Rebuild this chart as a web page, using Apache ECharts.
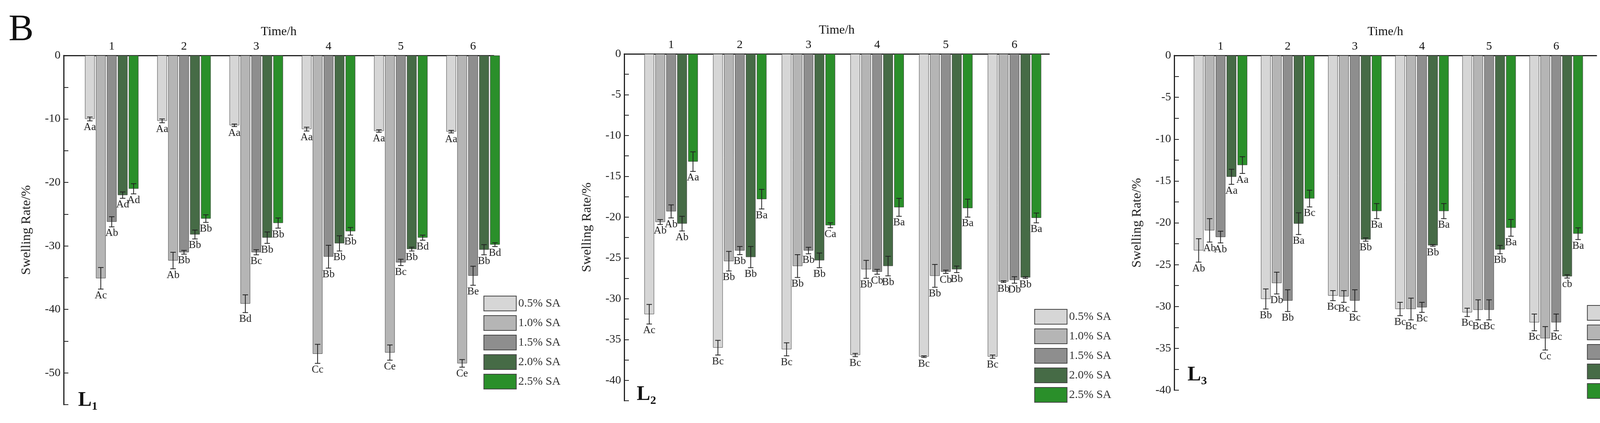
<!DOCTYPE html>
<html lang="en">
<head>
<meta charset="UTF-8">
<title>Swelling rate</title>
<style>
  body{margin:0;background:#fff;}
  #main{width:4290px;height:1083px;}
</style>
</head>
<body>
<div id="main"></div>
<script src="https://cdn.jsdelivr.net/npm/echarts@6/dist/echarts.min.js"></script>
<script>
const times = [1, 2, 3, 4, 5, 6];
const levels = ['0.5% SA', '1.0% SA', '1.5% SA', '2.0% SA', '2.5% SA'];
const colors = ['#d6d6d6', '#b5b5b5', '#8e8e8e', '#466b46', '#2a8f2a'];

// values per SA level, across time 1..6
const l1Values = [
  [-10, -10.3, -11, -11.6, -11.9, -12],
  [-35.1, -32.3, -39.1, -47, -46.8, -48.5],
  [-26.2, -31, -31, -31.7, -32.6, -34.7],
  [-22, -28.2, -28.7, -29.6, -30.5, -30.6],
  [-21, -25.7, -26.4, -27.7, -28.7, -29.8]
];
const l2Values = [
  [-31.9, -36, -36.2, -36.9, -37.1, -37.1],
  [-20.6, -25.4, -26, -26.4, -27.2, -27.9],
  [-19.3, -24.1, -24.1, -26.7, -26.7, -27.7],
  [-20.8, -24.9, -25.3, -26, -26.4, -27.4],
  [-13.2, -17.8, -21, -18.8, -18.9, -20.1]
];
const l3Values = [
  [-23.3, -29.1, -28.7, -30.3, -30.7, -31.9],
  [-20.9, -27.2, -28.8, -30.3, -30.4, -33.8],
  [-21.7, -29.3, -29.3, -30.1, -30.4, -31.9],
  [-14.5, -20.1, -22, -22.7, -23.2, -26.4],
  [-13.1, -17.1, -18.6, -18.6, -20.6, -21.3]
];

// error bars per time group, per level
const l1Err = [[0.3,1.7,0.8,0.5,0.8],[0.3,1.3,0.3,0.7,0.6],[0.2,1.4,0.4,0.9,0.8],[0.3,1.5,1.8,1.2,0.6],[0.2,1.2,0.5,0.3,0.4],[0.2,0.6,1.5,0.8,0.3]];
const l2Err = [[1.2,0.3,0.8,0.9,1.2],[0.9,1.2,0.5,1.3,1.2],[0.8,1.4,0.4,0.9,0.3],[0.2,1.1,0.3,1.2,1.1],[0.1,1.4,0.2,0.4,1.1],[0.2,0.1,0.4,0.1,0.6]];
const l3Err = [[1.4,1.4,0.7,0.9,1.0],[1.2,1.3,1.3,1.3,1.0],[0.6,0.7,1.3,0.2,0.9],[0.8,1.3,0.6,0.1,0.9],[0.5,1.2,1.2,0.5,1.0],[1.0,1.4,1.0,0.2,0.7]];

// significance letters per time group, per level
const l1Letters = [['Aa','Ac','Ab','Ad','Ad'],['Aa','Ab','Bb','Bb','Bb'],['Aa','Bd','Bc','Bb','Bb'],['Aa','Cc','Bb','Bb','Bb'],['Aa','Ce','Bc','Bb','Bd'],['Aa','Ce','Be','Bb','Bd']];
const l2Letters = [['Ac','Ab','Ab','Ab','Aa'],['Bc','Bb','Bb','Bb','Ba'],['Bc','Bb','Bb','Bb','Ca'],['Bc','Bb','Cb','Bb','Ba'],['Bc','Bb','Cb','Bb','Ba'],['Bc','Bb','Db','Bb','Ba']];
const l3Letters = [['Ab','Ab','Ab','Aa','Aa'],['Bb','Db','Bb','Ba','Bc'],['Bc','Bc','Bc','Bb','Ba'],['Bc','Bc','Bc','Bb','Ba'],['Bc','Bc','Bc','Bb','Ba'],['Bc','Cc','Bc','cb','Ba']];

const FONT = 'Liberation Serif';
const BAR_W = 25, PITCH = 28;

const panels = [
  {vals: l1Values, err: l1Err, let: l1Letters, grid: {left: 163, top: 142, width: 1101, height: 894},
   xMin: 0.335, xMax: 6.286, yMin: -55, labStep: 10, legend: {right: 2850, top: 752}, tag: {x: 200, y: 1000, sub: '1'}},
  {vals: l2Values, err: l2Err, let: l2Letters, grid: {left: 1598, top: 138, width: 1088, height: 888},
   xMin: 0.317, xMax: 6.506, yMin: -42.5, labStep: 5, legend: {right: 1440, top: 786}, tag: {x: 1630, y: 985, sub: '2'}},
  {vals: l3Values, err: l3Err, let: l3Letters, grid: {left: 3006, top: 142, width: 1081, height: 857},
   xMin: 0.31, xMax: 6.6, yMin: -40, labStep: 5, legend: {right: 25, top: 776}, tag: {x: 3040, y: 935, sub: '3'}}
];

const grids = [], xAxes = [], yAxes = [], series = [], legends = [], graphics = [];

panels.forEach((p, k) => {
  grids.push(p.grid);
  xAxes.push({
    type: 'value', gridIndex: k, position: 'top', min: p.xMin, max: p.xMax,
    name: 'Time/h', nameLocation: 'middle', nameGap: 44,
    nameTextStyle: {fontFamily: FONT, fontSize: 32, color: '#111'},
    axisLine: {show: true, onZero: false, lineStyle: {color: '#222', width: 3}},
    axisTick: {show: false},
    axisLabel: {customValues: times, fontFamily: FONT, fontSize: 30, color: '#111', margin: 8},
    splitLine: {show: false}
  });
  yAxes.push({
    type: 'value', gridIndex: k, min: p.yMin, max: 0, interval: 2.5 * (p.labStep / 5),
    name: 'Swelling Rate/%', nameLocation: 'middle', nameGap: 78,
    nameTextStyle: {fontFamily: FONT, fontSize: 34, color: '#222'},
    axisLine: {show: true, lineStyle: {color: '#222', width: 3}},
    axisTick: {inside: true, length: 12, lineStyle: {color: '#222', width: 2}},
    axisLabel: {fontFamily: FONT, fontSize: 30, color: '#222',
      formatter: v => (Math.abs(v % p.labStep) < 1e-6 ? String(v) : '')},
    splitLine: {show: false}
  });
  levels.forEach((name, i) => {
    series.push({
      type: 'bar', name: name, xAxisIndex: k, yAxisIndex: k,
      barWidth: BAR_W, barGap: ((PITCH - BAR_W) / BAR_W * 100) + '%',
      itemStyle: {color: colors[i], borderColor: '#444', borderWidth: 1},
      data: times.map((t, j) => [t, p.vals[i][j]])
    });
  });
  const errData = [];
  times.forEach((t, j) => levels.forEach((n, i) => {
    errData.push([t, i, p.vals[i][j], p.err[j][i], p.let[j][i]]);
  }));
  series.push({
    type: 'custom', xAxisIndex: k, yAxisIndex: k, z: 10, silent: true,
    data: errData,
    renderItem: (params, api) => {
      const x = api.value(0), lv = api.value(1), v = api.value(2), e = api.value(3);
      const off = (lv - 2) * PITCH;
      const a = api.coord([x, v + e]), b = api.coord([x, v - e]);
      const cx = a[0] + off, cap = 7;
      const st = {stroke: '#222', lineWidth: 2};
      return {type: 'group', children: [
        {type: 'line', shape: {x1: cx, y1: a[1], x2: cx, y2: b[1]}, style: st},
        {type: 'line', shape: {x1: cx - cap, y1: a[1], x2: cx + cap, y2: a[1]}, style: st},
        {type: 'line', shape: {x1: cx - cap, y1: b[1], x2: cx + cap, y2: b[1]}, style: st},
        {type: 'text', x: cx, y: b[1] + 3, style: {text: errData[params.dataIndex][4],
          fontFamily: FONT, fontSize: 27, fill: '#222', align: 'center', verticalAlign: 'top'}}
      ]};
    }
  });
  legends.push({
    orient: 'vertical', right: p.legend.right, top: p.legend.top,
    data: levels, icon: 'rect', itemWidth: 83, itemHeight: 38, itemGap: 10,
    textStyle: {fontFamily: FONT, fontSize: 30, color: '#333'}
  });
  graphics.push({
    type: 'text', left: p.tag.x, top: p.tag.y,
    style: {text: '{m|L}{s|' + p.tag.sub + '}',
      rich: {m: {fontFamily: FONT, fontSize: 52, fontWeight: 'bold', fill: '#111'},
             s: {fontFamily: FONT, fontSize: 30, fontWeight: 'bold', fill: '#111', padding: [30, 0, 0, 0]}}}
  });
});

graphics.push({type: 'text', left: 22, top: 30,
  style: {text: 'B', fontFamily: FONT, fontSize: 96, fill: '#111'}});

const chart = echarts.init(document.getElementById('main'));
chart.setOption({
  animation: false,
  grid: grids, xAxis: xAxes, yAxis: yAxes,
  legend: legends, series: series, graphic: graphics
});
</script>
</body>
</html>
